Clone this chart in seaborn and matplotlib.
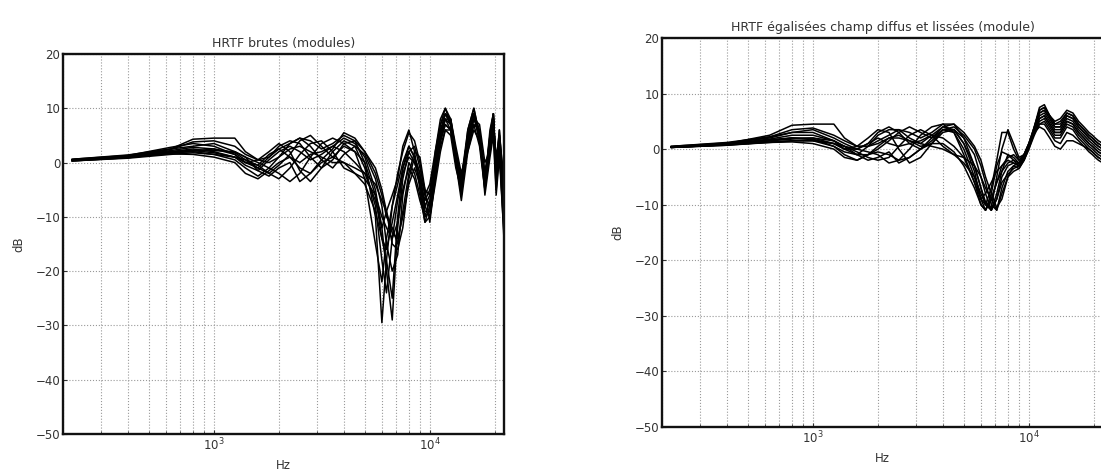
import numpy as np
import pandas as pd
import seaborn as sns
import matplotlib
matplotlib.use("Agg")
import matplotlib.pyplot as plt
from matplotlib.ticker import NullFormatter, LogLocator

# grille de fréquences (Hz)
freqs = [220, 400, 630, 800, 1000, 1250, 1400, 1600, 1800, 2000, 2250, 2500, 2800,
         3150, 3550, 4000, 4500, 5000, 5600, 6000, 6300, 6700, 7100, 7500, 8000,
         8500, 9000, 9500, 10000, 10600, 11200, 11800, 12500, 13200, 14000, 15000,
         16000, 17000, 18000, 19000, 19700, 20300, 21000, 22050]

# HRTF brutes (dB), une liste par direction
brutes = [
    [0.5, 1.2, 2.5, 4.3, 4.5, 4.5, 2.0, 0.5, 1.0, 2.5, 3.5, 4.5, 4.0, 2.5, 3.5, 5.0, 4.0, 0.0, -10, -29.5, -18, -8, -2, 2, 5.5, 4, 0, -6, -8, 2, 8, 10, 7, 0, -5, 6, 10, 5, -4, 6, 9, -2, 5, -8],
    [0.4, 1.0, 2.0, 2.5, 2.0, 1.0, -0.5, -1.5, 0.5, 2.0, 3.0, 2.0, 0.5, 1.5, 3.0, 4.5, 3.5, 1.0, -5, -12, -20, -29, -12, -3, 2, 0, -3, -8, -6, 1, 7, 9, 8, 2, -3, 4, 9, 6, -2, 3, 8, 0, 4, -5],
    [0.6, 1.3, 2.8, 3.5, 3.0, 1.5, 0.0, -1.0, -2.0, -0.5, 1.5, 4.0, 5.0, 3.0, 1.0, 3.0, 2.0, -3, -15, -22, -14, -8, -4, 0, 3, 1, -4, -10, -7, 0, 6, 8, 6, 0, -4, 5, 9, 4, -3, 4, 8, -3, 3, -14],
    [0.3, 0.9, 1.8, 2.0, 1.5, 0.5, -1.0, -2.5, -1.0, 1.0, 3.5, 4.5, 3.0, 0.5, -1.0, 1.5, 3.0, 1.5, -3, -8, -15, -20, -17, -6, 0, -2, -6, -11, -8, -1, 5, 9, 7, 1, -3, 6, 10, 5, -3, 5, 9, -1, 6, -6],
    [0.5, 1.1, 2.2, 2.8, 2.5, 1.8, 0.5, -1.0, 1.0, 3.0, 4.0, 3.5, 1.0, -1.0, 0.5, 3.5, 4.0, 2.0, -1, -5, -9, -15, -16, -12, -3, 1, -2, -9, -9, -2, 4, 8, 8, 3, -2, 3, 8, 7, 0, 2, 7, 1, 5, -3],
    [0.4, 1.0, 1.6, 1.5, 1.0, 0.0, -2.0, -3.0, -1.5, 0.0, 1.0, -1.0, -2.0, 0.5, 2.5, 5.5, 4.5, 2.0, -2, -6, -10, -12, -15, -9, -2, 2, 1, -5, -11, -3, 4, 7, 6, 0, -6, 4, 9, 4, -5, 4, 9, -4, 4, -10],
    [0.5, 1.2, 2.0, 2.2, 1.8, 1.0, 0.0, 0.5, 2.0, 3.5, 2.0, -1.5, -3.5, -1.0, 2.0, 4.0, 3.0, -1, -8, -18, -24, -14, -7, -2, 1, 0, -3, -7, -5, 1, 6, 9, 7, 1, -4, 5, 9, 5, -2, 4, 8, -2, 5, -7],
    [0.6, 1.4, 2.5, 3.0, 3.5, 2.0, 1.0, 0.0, -1.0, -2.0, -3.5, -2.0, 1.0, 3.5, 4.5, 3.5, 2.0, 0.0, -6, -14, -18, -25, -10, -1, 3, 1, -2, -6, -4, 2, 7, 10, 8, 2, -3, 5, 9, 4, -4, 5, 9, -1, 6, -5],
    [0.3, 0.8, 1.5, 1.8, 1.5, 1.0, 0.5, -0.5, -2.0, -3.0, -1.0, 1.5, 3.5, 4.0, 2.0, -1.0, -2.0, -3.0, -6, -10, -12, -14, -11, -5, -1, -3, -7, -10, -9, -2, 3, 6, 5, -1, -5, 3, 7, 3, -5, 2, 6, -5, 2, -12],
    [0.4, 1.1, 2.4, 3.8, 4.0, 3.0, 1.5, 0.5, 0.0, 1.0, 2.5, 3.0, 2.0, 1.0, 0.0, 0.0, -1.0, -2.0, -4, -7, -9, -13, -14, -10, -4, -1, -4, -8, -10, -4, 2, 6, 6, 1, -3, 2, 6, 4, -3, 3, 7, -3, 3, -9],
    [0.5, 1.0, 1.9, 2.3, 2.2, 2.0, 1.0, -1.5, -2.5, -1.0, 0.0, -3.5, -2.0, 0.0, 1.0, 0.0, -2.0, -4.0, -9, -14, -16, -11, -6, -1, 2, 3, -1, -5, -6, 0, 5, 8, 7, 1, -4, 4, 8, 5, -2, 3, 8, -2, 4, -4],
    [0.3, 0.9, 1.7, 2.1, 2.5, 1.5, 0.0, -0.5, 1.5, 2.5, 1.0, 0.0, 1.5, 2.0, 3.0, 2.0, 0.0, -2.0, -7, -12, -9, -6, -3, 3, 6, 2, -5, -11, -10, -3, 4, 7, 6, 0, -7, 2, 7, 6, -6, 1, 5, -6, 1, -13],
]

# HRTF égalisées champ diffus et lissées (dB)
lissees = [
    [0.4, 1.0, 2.5, 4.3, 4.5, 4.5, 2.0, 0.5, 0.5, 1.5, 2.5, 3.5, 3.0, 2.0, 3.0, 4.5, 4.5, 2.0, -3, -7, -9.5, -11, -8, -4, -1, -1.5, -2.5, -1.5, 0.5, 4, 7.5, 8, 6, 5, 5.5, 7, 6.5, 5, 4, 3, 2.5, 2, 1.5, 1],
    [0.3, 0.8, 1.5, 2.0, 1.8, 0.5, -0.5, -1.0, 0.5, 2.5, 3.5, 3.5, 2.0, 1.0, 2.5, 4.0, 3.5, 1.0, -4, -9, -11, -9, -6, -4, -2.5, -2, -2.5, -1, 1, 4, 7, 7.5, 6, 4.5, 5, 6.5, 6, 4.5, 3.5, 2.5, 2, 1.5, 1, 0.5],
    [0.5, 1.1, 2.0, 3.0, 3.0, 1.5, 0.0, -1.0, -1.0, 0.0, 1.5, 3.0, 4.0, 3.0, 2.0, 3.5, 3.0, -1.0, -6, -10, -11, -8, -3, -0.5, -1, -2, -3, -1.5, 0.5, 3.5, 6.5, 7, 5.5, 4, 4, 6, 5.5, 4, 3, 2, 1.5, 1, 0.5, 0],
    [0.3, 0.7, 1.3, 1.5, 1.5, 0.5, -1.0, -2.0, -1.0, 0.5, 2.0, 2.5, 1.5, 0.5, 1.0, 3.0, 3.5, 2.0, -1, -5, -8, -11, -9, -5, -3, -2.5, -3, -2, 0, 3, 6, 6.5, 5, 3.5, 3.5, 5.5, 5, 3.5, 2.5, 1.5, 1, 0.5, 0, -0.5],
    [0.4, 0.9, 1.8, 2.5, 2.5, 1.5, 0.5, 0.0, 1.0, 3.0, 4.0, 3.0, 1.0, 0.0, 1.5, 3.5, 4.0, 2.5, 0, -3, -6, -10, -11, -7, -4, -3, -3.5, -2, 0.5, 3, 5.5, 6, 4.5, 3, 3, 5, 4.5, 3, 2, 1, 0.5, 0, -0.5, -1],
    [0.3, 0.8, 1.2, 1.3, 1.0, 0.0, -1.5, -2.0, -1.0, -0.5, -1.0, -2.0, -1.5, 0.0, 2.0, 4.0, 4.5, 3.0, 0.5, -2, -5, -8, -10.5, -9, -5, -3, -2.5, -1.5, 0.5, 3, 5, 5.5, 4, 2.5, 2.5, 4.5, 4, 2.5, 1.5, 0.5, 0, -0.5, -1, -1.5],
    [0.4, 1.0, 1.7, 2.0, 1.7, 1.0, 0.0, 0.5, 2.0, 3.5, 3.0, 0.0, -2.5, -1.5, 1.0, 3.5, 3.5, 1.0, -3, -7, -10, -10.5, -5, 0, 3.5, 1, -1.5, -1, 1, 4, 7, 7.5, 6, 4.5, 4.5, 6.5, 6, 4.5, 3.5, 2.5, 2, 1.5, 1, 0.5],
    [0.5, 1.2, 2.2, 3.0, 3.5, 2.0, 1.0, 0.0, -0.5, -1.0, -2.5, -2.0, 0.0, 2.5, 4.0, 4.5, 3.0, 0.0, -5, -9, -10, -7, -2, 3, 3, 0, -2, -1, 1, 3.5, 6.5, 7, 5.5, 4, 4, 6, 5.5, 4, 3, 2, 1.5, 1, 0.5, 0],
    [0.3, 0.7, 1.2, 1.5, 1.5, 1.0, 0.5, -0.5, -1.5, -2.0, -1.5, 0.5, 2.5, 3.5, 2.5, 0.5, -1.0, -1.5, -3, -5, -7, -9, -11, -8, -5, -4, -3.5, -2, 0, 2.5, 4.5, 5, 3.5, 2, 2, 4, 3.5, 2, 1, 0, -0.5, -1, -1.5, -2],
    [0.4, 1.0, 2.2, 3.5, 3.8, 2.5, 1.5, 0.5, 0.5, 1.0, 2.0, 2.0, 1.5, 1.0, 0.5, 0.0, -1.0, -2.5, -5, -8, -10, -11, -9, -6, -4.5, -3.5, -3, -1.5, 0.5, 3, 5.5, 6, 4.5, 3, 3, 5, 4.5, 3, 2, 1, 0.5, 0, -0.5, -1],
    [0.4, 0.9, 1.6, 2.0, 2.0, 1.5, 0.5, -1.0, -2.0, -1.5, -0.5, -2.5, -1.5, 0.0, 1.0, 1.0, -0.5, -3.0, -7, -10, -11, -9, -6, -3, -1.5, -1, -2, -1, 0.5, 3, 4, 3.5, 2, 0.5, 0, 1.5, 1.5, 1, 0.5, 0, -0.5, -1, -1.5, -2],
    [0.3, 0.8, 1.5, 1.8, 2.0, 1.0, 0.0, 0.0, 1.0, 2.0, 1.0, 0.5, 1.0, 1.5, 2.5, 2.0, 0.5, -1.5, -6, -9, -8, -6, -4, -3, -2, -2.5, -3, -1.5, 0.5, 3, 4.5, 4.5, 3, 1.5, 1, 3, 2.5, 1.5, 0.5, -0.5, -1, -1.5, -2, -2.5],
]

titles = ["HRTF brutes (modules)", "HRTF égalisées champ diffus et lissées (module)"]
yticks = [-50, -40, -30, -20, -10, 0, 10, 20]


def to_long(curves):
    rows = []
    for k, c in enumerate(curves):
        for f, v in zip(freqs, c):
            rows.append({"freq": f, "dB": v, "curve": k})
    return pd.DataFrame(rows)


sns.set_style("ticks")
plt.rcParams["font.family"] = ["DejaVu Sans"]

fig = plt.figure(figsize=(11.01, 4.73), dpi=100)
ax1 = fig.add_axes([0.0572, 0.0825, 0.4005, 0.8034])
ax2 = fig.add_axes([0.6013, 0.0973, 0.4005, 0.8224])

for ax, curves, title in zip([ax1, ax2], [brutes, lissees], titles):
    df = to_long(curves)
    sns.lineplot(data=df, x="freq", y="dB", units="curve", estimator=None,
                 color="black", lw=1.1, legend=False, ax=ax)
    ax.set_xscale("log")
    ax.set_xlim(200, 22050)
    ax.set_ylim(-50, 20)
    ax.set_yticks(yticks)
    ax.xaxis.set_minor_locator(LogLocator(base=10, subs=np.arange(2, 10)))
    ax.xaxis.set_minor_formatter(NullFormatter())
    ax.grid(True, which="both", axis="x", linestyle=":", color="#999999", lw=0.8)
    ax.grid(True, which="major", axis="y", linestyle=":", color="#999999", lw=0.8)
    ax.tick_params(which="both", direction="in", labelsize=8.5, colors="#333333",
                   length=3, pad=2)
    ax.tick_params(which="minor", length=2)
    for s in ax.spines.values():
        s.set_linewidth(1.7)
        s.set_color("#111111")
    ax.set_title(title, fontsize=9, color="#333333", pad=5)
    ax.set_xlabel("Hz", fontsize=8.5, color="#333333", labelpad=4)
    ax.set_ylabel("dB", fontsize=8.5, color="#333333", labelpad=7)

fig.savefig("out.png", dpi=100)
